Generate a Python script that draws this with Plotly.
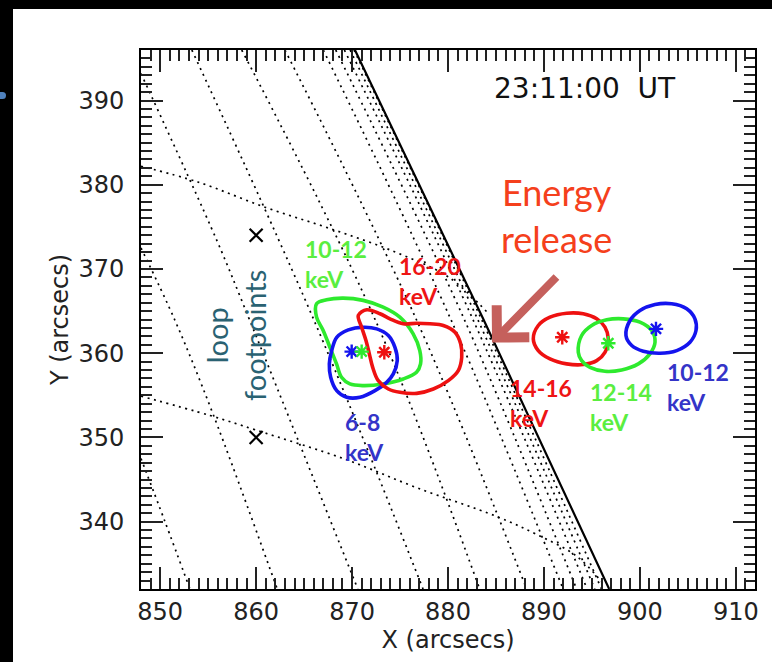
import plotly.graph_objects as go

# ---------------- axes ----------------
x_range = [848, 912]
y_range = [332, 396]
x_tick_vals = [850, 860, 870, 880, 890, 900, 910]
y_tick_vals = [340, 350, 360, 370, 380, 390]

# ---------------- heliographic grid (dotted) ----------------
meridians_x = [
    [848.0, 850.5, 853.1],
    [848.0, 851.5, 855.5, 862.2],
    [848.0, 855.9, 859.3, 870.6],
    [853.3, 866.0, 877.4],
    [858.5, 872.4, 883.3],
    [863.0, 876.7, 888.2],
    [867.0, 880.3, 892.0],
    [868.3, 881.7, 893.4],
    [869.2, 882.6, 894.5],
    [869.8, 883.1, 895.3],
    [870.2, 883.5, 896.0],
]
meridians_y = [
    [347.5, 340.0, 332.0],
    [372.5, 364.0, 352.8, 332.0],
    [393.2, 373.4, 364.0, 332.0],
    [396.0, 364.0, 332.0],
    [396.0, 364.0, 332.0],
    [396.0, 364.0, 332.0],
    [396.0, 364.0, 332.0],
    [396.0, 364.0, 332.0],
    [396.0, 364.0, 332.0],
    [396.0, 364.0, 332.0],
    [396.0, 364.0, 332.0],
]
parallel_upper_x = [848.0, 854.0, 861.0, 867.7, 874.3, 880.1, 884.3]
parallel_upper_y = [382.2, 380.3, 377.3, 374.8, 372.1, 369.0, 364.6]
parallel_lower_x = [848.0, 855.2, 859.9, 869.3, 876.8, 885.1, 889.2, 893.4, 896.2]
parallel_lower_y = [354.9, 352.6, 350.9, 347.4, 344.0, 340.6, 338.5, 335.9, 332.6]

# solar limb (solid)
limb_x = [870.3, 883.7, 896.8]
limb_y = [396.0, 364.0, 332.0]

# ---------------- loop footpoints ----------------
footpoint_x = [860.0, 860.0]
footpoint_y = [374.0, 350.0]

# ---------------- X-ray source contours ----------------
left_green_x = [866.30, 867.34, 869.07, 871.16, 873.24, 874.98, 876.37, 877.06, 877.14, 876.72,
                875.33, 873.24, 871.16, 869.77, 868.90, 868.38, 867.69, 866.99, 866.30]
left_green_y = [365.87, 366.35, 366.54, 366.27, 365.47, 364.28, 362.30, 360.31, 358.72, 357.73,
                356.94, 356.35, 356.15, 356.35, 357.14, 358.72, 360.71, 362.70, 364.28]

left_blue_x = [867.88, 868.40, 869.61, 871.17, 872.57, 873.78, 874.47, 874.71, 874.30, 873.61,
               872.39, 870.83, 869.44, 868.40, 867.77, 867.63]
left_blue_y = [360.31, 361.89, 362.77, 363.08, 362.89, 362.10, 360.70, 359.12, 357.54, 356.54,
               355.55, 354.76, 354.76, 355.55, 357.14, 358.73]

left_red_x = [870.65, 871.53, 872.91, 873.95, 875.34, 876.74, 878.12, 879.51, 880.73, 881.32,
              881.43, 881.07, 880.03, 878.47, 876.74, 874.99, 873.78, 872.73, 872.15, 871.80,
              871.45, 871.00]
left_red_y = [364.48, 365.15, 364.68, 364.08, 363.49, 363.56, 363.49, 363.29, 362.49, 361.11,
              359.51, 357.93, 356.74, 355.75, 355.23, 355.35, 355.75, 356.74, 358.32, 359.92,
              361.50, 363.08]

right_red_x = [888.89, 889.41, 890.63, 892.37, 894.10, 895.50, 896.36, 896.71, 896.36, 895.50,
               894.10, 892.37, 890.63, 889.41]
right_red_y = [361.70, 363.29, 364.27, 364.75, 364.68, 364.08, 363.09, 361.70, 360.11, 359.12,
               358.65, 358.73, 359.32, 360.31]

right_green_x = [893.58, 893.93, 894.98, 896.54, 898.27, 900.01, 901.23, 901.58, 901.05, 899.84,
                 898.10, 896.36, 894.80, 893.93]
right_green_y = [360.11, 362.10, 363.29, 363.96, 364.08, 363.68, 362.69, 361.30, 359.92, 358.73,
                 358.01, 357.85, 358.32, 359.12]

right_blue_x = [898.55, 898.97, 900.01, 901.58, 903.31, 904.88, 905.74, 905.85, 905.22, 903.84,
                902.10, 900.36, 899.15]
right_blue_y = [362.10, 363.88, 365.07, 365.78, 365.87, 365.27, 364.08, 362.69, 361.30, 360.31,
                359.99, 360.23, 360.91]

# centroids
centroid_x = [869.96, 871.00, 873.36, 891.91, 896.71, 901.68]
centroid_y = [360.19, 360.19, 360.11, 361.89, 361.18, 362.89]
centroid_color = ["blue", "green", "red", "red", "green", "blue"]

# energy-band labels: text, left x, centre y, colour key
band_labels = ["10-12<br>keV", "16-20<br>keV", "6-8<br>keV", "14-16<br>keV", "12-14<br>keV", "10-12<br>keV"]
band_label_x = [864.9, 874.7, 869.05, 886.25, 894.6, 902.6]
band_label_y = [370.6, 368.6, 350.1, 354.1, 353.6, 355.95]
band_label_color = ["green", "red", "blue", "red", "green", "blue"]

contour_colors = {"red": "#ee1111", "green": "#2eea2e", "blue": "#1414ee"}
text_colors = {"red": "#ee1414", "green": "#5aee40", "blue": "#3434c8"}

fig = go.Figure()

dot_style = dict(color="black", width=1.7, dash="2px,4.5px", shape="spline")
for mx, my in zip(meridians_x, meridians_y):
    fig.add_trace(go.Scatter(x=mx, y=my, mode="lines", line=dot_style, hoverinfo="skip"))
fig.add_trace(go.Scatter(x=parallel_upper_x, y=parallel_upper_y, mode="lines", line=dot_style, hoverinfo="skip"))
fig.add_trace(go.Scatter(x=parallel_lower_x, y=parallel_lower_y, mode="lines", line=dot_style, hoverinfo="skip"))
fig.add_trace(go.Scatter(x=limb_x, y=limb_y, mode="lines",
                         line=dict(color="black", width=2.2, shape="spline"), hoverinfo="skip"))

fig.add_trace(go.Scatter(x=footpoint_x, y=footpoint_y, mode="markers",
                         marker=dict(symbol="x-thin-open", size=13, color="black",
                                     line=dict(color="black", width=2.2))))

def closed(a):
    return list(a) + [a[0]]

for cx, cy, key in [
    (left_green_x, left_green_y, "green"),
    (left_blue_x, left_blue_y, "blue"),
    (left_red_x, left_red_y, "red"),
    (right_red_x, right_red_y, "red"),
    (right_green_x, right_green_y, "green"),
    (right_blue_x, right_blue_y, "blue"),
]:
    fig.add_trace(go.Scatter(x=closed(cx), y=closed(cy), mode="lines",
                             line=dict(color=contour_colors[key], width=3.6, shape="spline", smoothing=1.0),
                             hoverinfo="skip"))

star_cols = [contour_colors[c] for c in centroid_color]
fig.add_trace(go.Scatter(x=centroid_x, y=centroid_y, mode="markers",
                         marker=dict(symbol="asterisk-open", size=12, color=star_cols,
                                     line=dict(color=star_cols, width=2.4))))

annotations = []
label_font = "Lato, 'Open Sans', sans-serif"
for t, lx, ly, c in zip(band_labels, band_label_x, band_label_y, band_label_color):
    annotations.append(dict(x=lx, y=ly, xref="x", yref="y", text="<b>" + t + "</b>", showarrow=False,
                            xanchor="left", yanchor="middle", align="left",
                            font=dict(family=label_font, size=23, color=text_colors[c])))

annotations.append(dict(x=857.85, y=362.1, xref="x", yref="y", text="loop<br>footpoints",
                        showarrow=False, textangle=-90, align="center",
                        font=dict(family=label_font, size=29, color="#2a6272")))

annotations.append(dict(x=894.28, y=391.48, xref="x", yref="y", text="23:11:00\u00a0\u00a0UT",
                        showarrow=False, font=dict(family="DejaVu Sans", size=28, color="#111111")))

annotations.append(dict(x=891.36, y=376.3, xref="x", yref="y", text="Energy<br>release",
                        showarrow=False, align="center",
                        font=dict(family=label_font, size=36, color="#f5401c")))
annotations.append(dict(x=884.59, y=361.26, xref="x", yref="y", ax=891.46, ay=369.23,
                        axref="x", ayref="y", text="", showarrow=True,
                        arrowhead=4, arrowsize=1.1, arrowwidth=8, arrowcolor="#c5605c", standoff=0))

axis_common = dict(showline=True, linecolor="black", linewidth=2, mirror="allticks",
                   ticks="inside", ticklen=22, tickwidth=1.6, tickcolor="#222222",
                   showgrid=False, zeroline=False,
                   tickfont=dict(family="DejaVu Sans", size=24, color="#222222"),
                   minor=dict(dtick=1, ticks="inside", ticklen=11, tickwidth=1.6, tickcolor="#222222",
                              showgrid=False))

fig.update_xaxes(range=x_range, tickvals=x_tick_vals, ticklabelstandoff=0,
                 title=dict(text="X (arcsecs)", standoff=0,
                            font=dict(family="DejaVu Sans", size=24, color="#222222")),
                 **axis_common)
fig.update_yaxes(range=y_range, tickvals=y_tick_vals, ticklabelstandoff=10,
                 title=dict(text="Y (arcsecs)", standoff=3,
                            font=dict(family="DejaVu Sans", size=24, color="#222222")),
                 **axis_common)

# The figure sits inside a black slide frame (top band 9 px, left band 13 px)
frame_top = 9
frame_left = 13
fig.update_layout(width=772 - frame_left, height=662 - frame_top, autosize=False,
                  margin=dict(l=141 - frame_left, r=17, t=50 - frame_top, b=73),
                  plot_bgcolor="white", paper_bgcolor="white",
                  showlegend=False, annotations=annotations)

post = (
    "document.body.style.margin='0px';"
    "document.body.style.padding='%dpx 0px 0px %dpx';"
    "document.body.style.background='white';"
    "document.body.style.overflow='hidden';"
    "function band(css){var d=document.createElement('div');"
    "d.style.cssText='position:fixed;'+css;document.body.appendChild(d);}"
    "band('left:0px;top:0px;width:772px;height:%dpx;background:black;');"
    "band('left:0px;top:0px;width:%dpx;height:662px;background:black;');"
    "band('left:0px;top:92px;width:6px;height:7px;background:#4f81bd;border-radius:0 4px 4px 0;');"
) % (frame_top, frame_left, frame_top, frame_left)

fig.write_html("out.html", config={"displayModeBar": False}, post_script=post)
